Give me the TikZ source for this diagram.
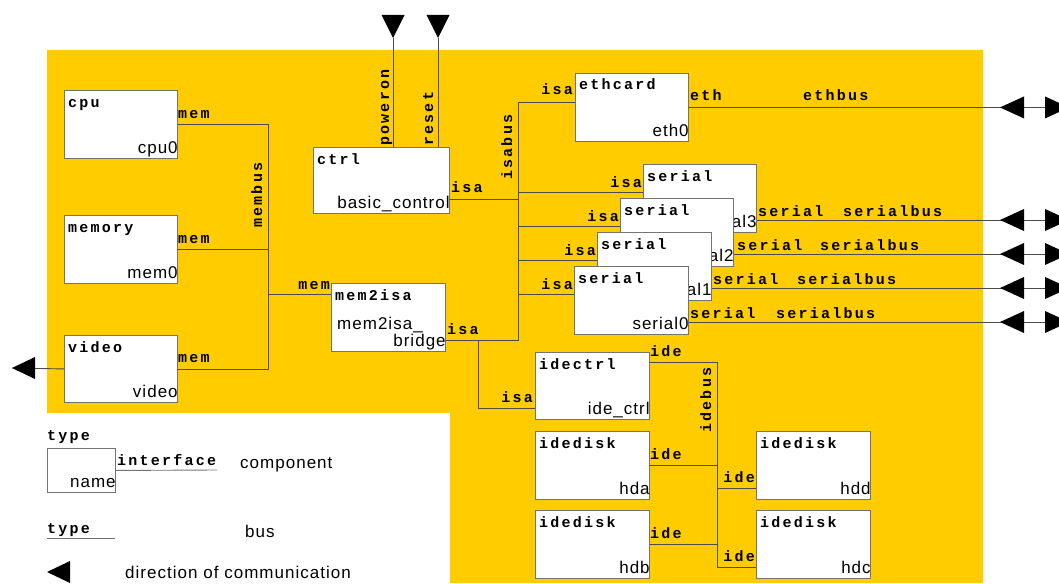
\documentclass[tikz,border=0pt]{standalone}
\usepackage{fontspec}
\setmainfont{Liberation Sans}
\newfontfamily\monofnt{Liberation Mono}[LetterSpace=15]
\newfontfamily\sansfnt{Liberation Sans}[LetterSpace=6]
\definecolor{yel}{RGB}{255,204,0}
\tikzset{
  comp/.style={draw=black!55, fill=white, line width=0.9pt, inner sep=0pt},
  typ/.style={font=\monofnt\bfseries\fontsize{15}{17}\selectfont, inner sep=0pt, text=black},
  inst/.style={font=\sansfnt\fontsize{17}{19}\selectfont, inner sep=0pt, text=black},
  bus/.style={draw=black!70, line width=0.9pt},
  tri/.style={fill=black},
}
\newcommand\compbox[7]{%
  \node[comp, minimum width=#4pt, minimum height=#5pt, anchor=north west] (#1) at (#2,#3) {};
  \node[typ, anchor=base west] (#1-type) at ([xshift=4pt,yshift=-17pt]#1.north west) {#6};
  \node[inst, anchor=base east] (#1-name) at ([yshift=5pt]#1.south east) {#7};
}
\newcommand\biarrow[1]{%
  \fill[tri] (#1 -| tipL) -- ++(24,-11) -- ++(0,22) -- cycle;
  \fill[tri] (#1 -| baseR) ++(0,-11) -- ++(24,11) -- ++(-24,11) -- cycle;
}
\begin{document}
\begin{tikzpicture}[x=1pt,y=-1pt]
\useasboundingbox (0,0) rectangle (1059,583);
\clip (0,0) rectangle (1059,583);
\fill[yel] (47,50) -- (983,50) -- (983,583) -- (450,583) -- (450,413) -- (47,413) -- cycle;

% components
\compbox{cpu}{64}{90}{113}{68}{cpu}{cpu0}
\compbox{memory}{64}{215}{113}{68}{memory}{mem0}
\compbox{video}{64}{335}{113}{67}{video}{video}
\compbox{ctrl}{313}{147}{136}{66}{ctrl}{basic\_control}
\compbox{mem2isa}{331}{283}{114}{68}{mem2isa}{bridge}
\node[inst, anchor=base west] (mem2isa-name1) at (337,329) {mem2isa\_};
\compbox{ethcard}{575}{73}{113}{68}{ethcard}{eth0}
\compbox{serial3}{643}{164}{113}{68}{serial}{serial3}
\compbox{serial2}{620}{198}{113}{68}{serial}{serial2}
\compbox{serial1}{597}{232}{114}{68}{serial}{serial1}
\compbox{serial0}{574}{266}{114}{68}{serial}{serial0}
\compbox{idectrl}{535}{352}{114}{67}{idectrl}{ide\_ctrl}
\compbox{hda}{535}{431}{114}{68}{idedisk}{hda}
\compbox{hdb}{535}{510}{114}{68}{idedisk}{hdb}
\compbox{hdd}{756}{431}{114}{68}{idedisk}{hdd}
\compbox{hdc}{756}{510}{114}{68}{idedisk}{hdc}

% helper coordinates
\coordinate (mbx) at (268,0);
\coordinate (ibx) at (518,0);
\coordinate (ibx2) at (478,0);
\coordinate (idx) at (717,0);
\coordinate (tipL) at (1000,0);
\coordinate (baseR) at (1045,0);
\coordinate (redge) at (1059,0);

% membus
\draw[bus] (cpu.east) -| (video.east -| mbx) -- (video.east);
\draw[bus] (memory.east) -- (memory.east -| mbx);
\coordinate (m2i-mem) at ([yshift=-11pt]mem2isa.north west);
\draw[bus] (m2i-mem) -- (m2i-mem -| mbx);

% isabus
\coordinate (eth-isa) at ([yshift=-29pt]ethcard.north west);
\coordinate (ctrl-isa) at ([yshift=-52pt]ctrl.north east);
\coordinate (m2i-isa) at ([yshift=-57pt]mem2isa.north east);
\draw[bus] (eth-isa) -| (m2i-isa -| ibx) -- (m2i-isa);
\draw[bus] (ctrl-isa) -- (ctrl-isa -| ibx);
\foreach \s in {serial3,serial2,serial1,serial0}{
  \coordinate (\s-isa) at ([yshift=-28pt]\s.north west);
  \draw[bus] (\s-isa) -- (\s-isa -| ibx);
  \coordinate (\s-out) at ([yshift=-56pt]\s.north east);
  \draw[bus] (\s-out) -- (\s-out -| redge);
  \biarrow{\s-out}
}
\coordinate (ic-isa) at ([yshift=-56pt]idectrl.north west);
\draw[bus] (m2i-isa -| ibx2) |- (ic-isa);

% ethbus
\draw[bus] (ethcard.east) -- (ethcard.east -| redge);
\biarrow{ethcard.east}

% idebus
\coordinate (ic-ide) at ([yshift=-10pt]idectrl.north east);
\coordinate (hdc-ide) at ([yshift=-57pt]hdc.north west);
\coordinate (hdd-ide) at ([yshift=-57pt]hdd.north west);
\draw[bus] (ic-ide) -| (hdc-ide -| idx) -- (hdc-ide);
\draw[bus] (hda.east) -- (hda.east -| idx);
\draw[bus] (hdb.east) -- (hdb.east -| idx);
\draw[bus] (hdd-ide) -- (hdd-ide -| idx);

% ctrl inputs
\coordinate (pw-tip) at (393,38);
\coordinate (rs-tip) at (438,38);
\draw[bus] (pw-tip) -- (pw-tip |- ctrl.north);
\draw[bus] (rs-tip) -- (rs-tip |- ctrl.north);
\fill[tri] (pw-tip) -- ++(-11.5,-23) -- ++(23,0) -- cycle;
\fill[tri] (rs-tip) -- ++(-11.5,-23) -- ++(23,0) -- cycle;

% video output
\coordinate (vid-tip) at (12,368);
\draw[bus] (vid-tip) -- (video.west);
\fill[tri] (vid-tip) -- ++(23,-11) -- ++(0,22) -- cycle;

% bus labels
\node[typ, rotate=90, anchor=base west] (membus-l) at (262,228) {membus};
\node[typ, rotate=90, anchor=base west] (poweron-l) at (389,146) {poweron};
\node[typ, rotate=90, anchor=base west] (reset-l) at (433,146) {reset};
\node[typ, rotate=90, anchor=base west] (isabus-l) at (512,180) {isabus};
\node[typ, rotate=90, anchor=base west] (idebus-l) at (711,433) {idebus};

% interface labels
\node[typ, anchor=base west] (cpu-mem) at (178,118) {mem};
\node[typ, anchor=base west] (memory-mem) at (178,243) {mem};
\node[typ, anchor=base west] (video-mem) at (178,362) {mem};
\node[typ, anchor=base east] (m2i-mem-l) at (330,289) {mem};
\node[typ, anchor=base west] (ctrl-isa-l) at (451,192) {isa};
\node[typ, anchor=base west] (m2i-isa-l) at (447,334) {isa};
\node[typ, anchor=base east] (eth-isa-l) at (573,95) {isa};
\node[typ, anchor=base west] (eth-l) at (690,101) {eth};
\node[typ, anchor=base west] (ethbus-l) at (803,101) {ethbus};
\node[typ, anchor=base east] (s3-isa-l) at (642,187) {isa};
\node[typ, anchor=base east] (s2-isa-l) at (619,221) {isa};
\node[typ, anchor=base east] (s1-isa-l) at (596,255) {isa};
\node[typ, anchor=base east] (s0-isa-l) at (573,289) {isa};
\node[typ, anchor=base west] (s3-ser-l) at (758,216) {serial};
\node[typ, anchor=base west] (s3-bus-l) at (843,216) {serialbus};
\node[typ, anchor=base west] (s2-ser-l) at (737,250) {serial};
\node[typ, anchor=base west] (s2-bus-l) at (820,250) {serialbus};
\node[typ, anchor=base west] (s1-ser-l) at (713,284) {serial};
\node[typ, anchor=base west] (s1-bus-l) at (797,284) {serialbus};
\node[typ, anchor=base west] (s0-ser-l) at (690,318) {serial};
\node[typ, anchor=base west] (s0-bus-l) at (776,318) {serialbus};
\node[typ, anchor=base west] (ic-ide-l) at (650,356) {ide};
\node[typ, anchor=base west] (hda-ide-l) at (650,459) {ide};
\node[typ, anchor=base west] (hdb-ide-l) at (650,538) {ide};
\node[typ, anchor=base east] (hdd-ide-l) at (755,482) {ide};
\node[typ, anchor=base east] (hdc-ide-l) at (755,561) {ide};
\node[typ, anchor=base east] (ic-isa-l) at (533,402) {isa};

% legend
\node[typ, anchor=base west] (lg-type1) at (47,440) {type};
\node[comp, minimum width=68pt, minimum height=44pt, anchor=north west] (legbox) at (47,448) {};
\node[inst, anchor=base east] (legname) at ([yshift=5pt]legbox.south east) {name};
\coordinate (lg-ifend) at (217,470);
\draw[bus, draw=black!55] (legbox.east) -- (lg-ifend);
\node[typ, anchor=base west] (lg-if) at (117,465) {interface};
\node[inst, anchor=base west] (lg-comp) at (240,468) {component};
\node[typ, anchor=base west] (lg-type2) at (47,533) {type};
\coordinate (lg-bus-a) at (47,538);
\coordinate (lg-bus-b) at (115,538);
\draw[bus, draw=black!55] (lg-bus-a) -- (lg-bus-b);
\node[inst, anchor=base west] (lg-bus) at (245,537) {bus};
\coordinate (lg-tip) at (47,572);
\fill[tri] (lg-tip) -- ++(23,-11) -- ++(0,22) -- cycle;
\node[inst, anchor=base west] (lg-dir) at (125,578) {direction of communication};
\end{tikzpicture}
\end{document}
